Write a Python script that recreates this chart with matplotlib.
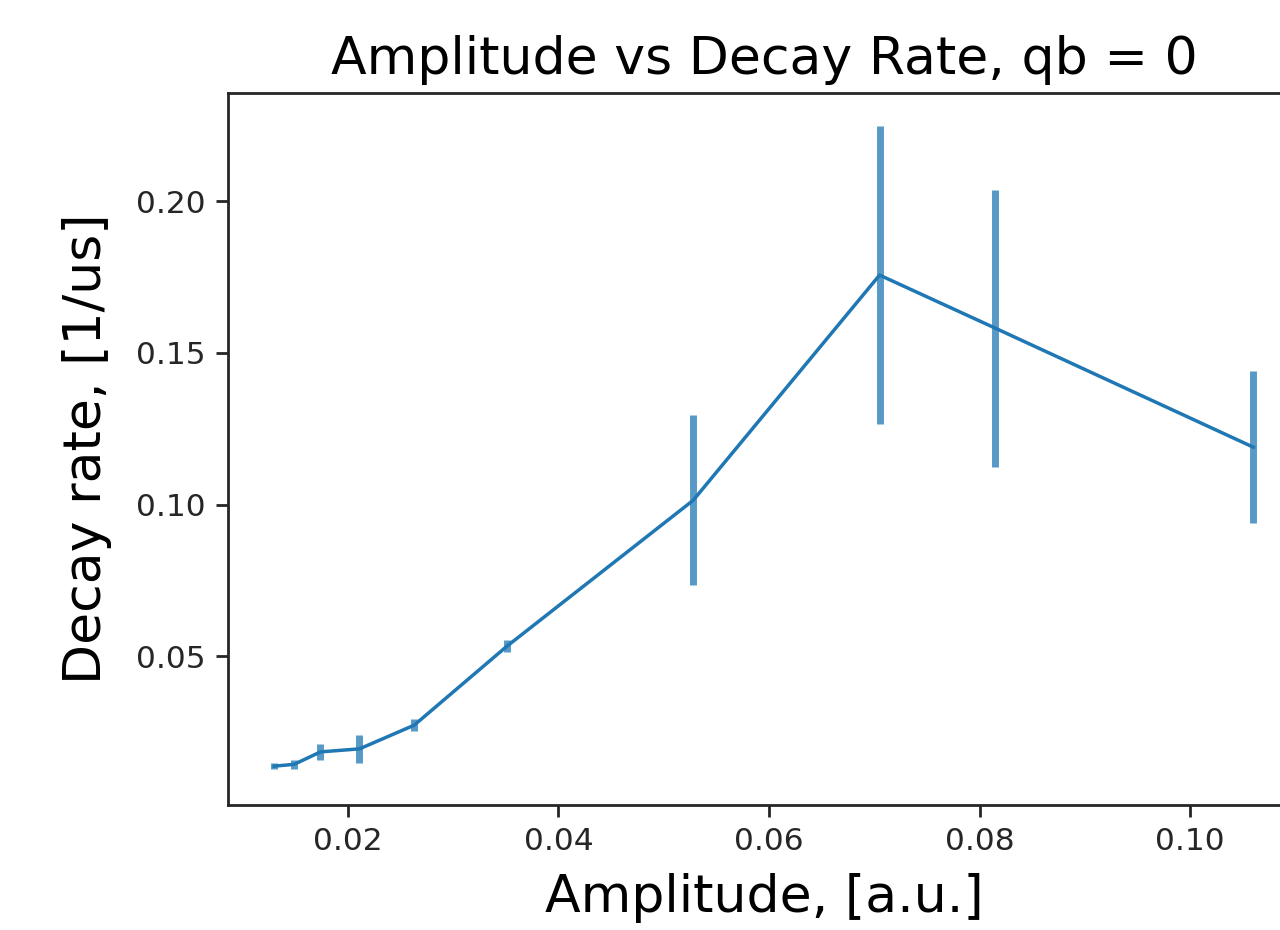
import numpy as np
import matplotlib
matplotlib.use('Agg')
import matplotlib.pyplot as plt


# amplitudes and decay rates
amp = [0.0130, 0.0149, 0.0174, 0.0211, 0.0263, 0.0351, 0.0528, 0.0705, 0.0815, 0.1060]
rate = [0.0138, 0.0144, 0.0185, 0.0195, 0.0273, 0.0533, 0.1014, 0.1756, 0.1581, 0.1189]
rate_err = [0.0010, 0.0015, 0.0026, 0.0047, 0.0020, 0.0020, 0.0280, 0.0490, 0.0456, 0.0250]

QB = 0


fig = plt.figure(figsize=(12.8, 9.3), dpi=100)
# axes run past the right edge, like the cropped original
ax = fig.add_axes([0.178, 0.1344, 0.839, 0.7656])

ax.errorbar(amp, rate, yerr=rate_err, color='C0', lw=2.5,
            ecolor=(0.12, 0.47, 0.71, 0.75), elinewidth=5, capsize=0)

ax.set_xlim(0.0086, 0.1106)
ax.set_ylim(0.001, 0.2356)
ax.set_xticks([0.02, 0.04, 0.06, 0.08, 0.10])
ax.set_yticks([0.05, 0.10, 0.15, 0.20])

ax.tick_params(labelsize=22.5, width=2, length=8.5, pad=7.5, colors='#262626')
for sp in ax.spines.values():
    sp.set_linewidth(2)
    sp.set_color('#262626')

ax.set_xlabel('Amplitude, [a.u.]', fontsize=37.5, labelpad=12)
ax.set_ylabel('Decay rate, [1/us]', fontsize=37.5, labelpad=17)
ax.set_title('Amplitude vs Decay Rate, qb = {}'.format(QB), fontsize=37.5, pad=14)

fig.savefig('out.png', dpi=100)
